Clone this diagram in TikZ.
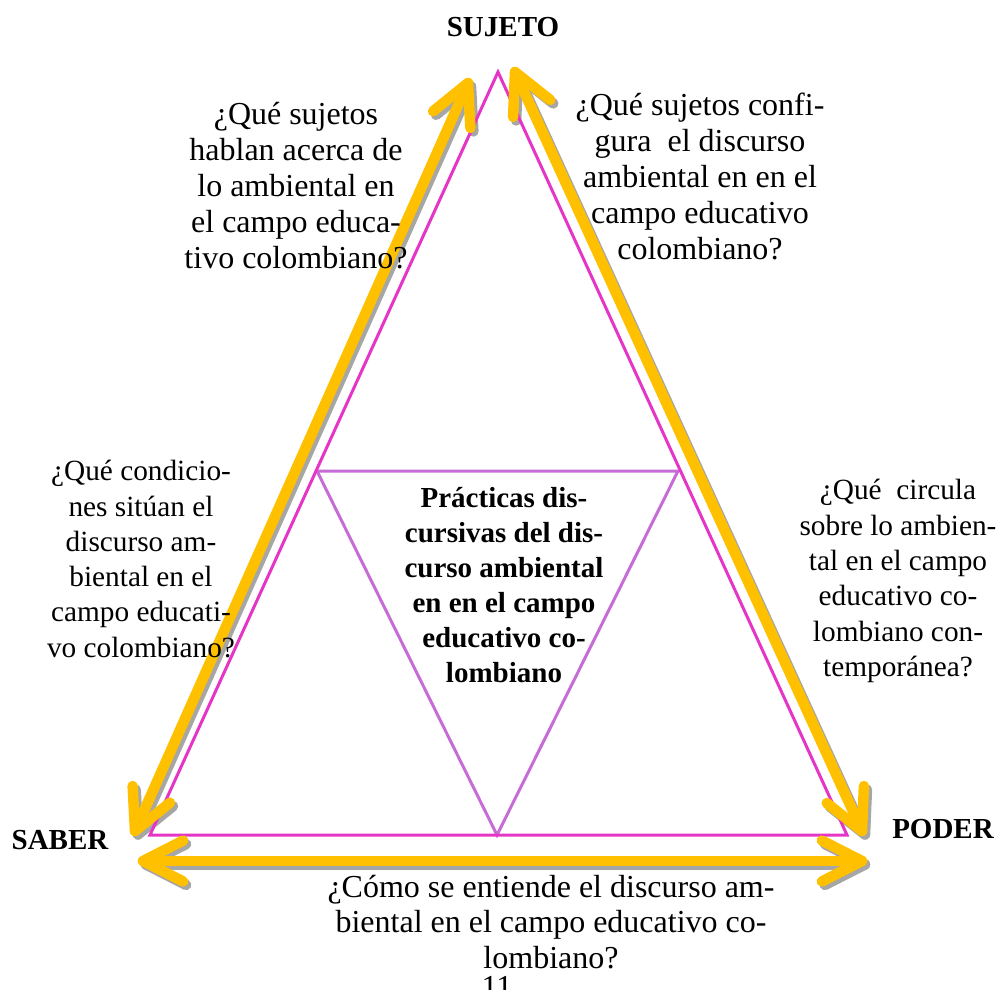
\documentclass[tikz,border=0pt]{standalone}
\usepackage{fontspec}
\setmainfont{Liberation Serif}
\usetikzlibrary{calc}
\definecolor{pinkline}{HTML}{E535C6}
\definecolor{purpline}{HTML}{C76CD6}
\definecolor{arrowyellow}{HTML}{FFC000}
\definecolor{shadowgray}{HTML}{A6A6A6}
\tikzset{
  yarr/.style={draw=arrowyellow, line width=10.5pt, line cap=round, line join=round},
  sarr/.style={yarr, draw=shadowgray, transform canvas={shift={(3pt,-3.5pt)}}},
  qtext/.style={align=center, font=\fontsize{32}{36}\selectfont, inner sep=0pt},
  qtextb/.style={align=center, font=\fontsize{29.3}{35.3}\selectfont, inner sep=0pt},
  qtextc/.style={align=center, font=\fontsize{32}{35.3}\selectfont, inner sep=0pt},
  ctext/.style={align=center, font=\fontsize{29}{35}\selectfont\bfseries, inner sep=0pt},
  vlabel/.style={font=\fontsize{29}{34}\selectfont\bfseries, inner sep=0pt}
}
\newcommand\dblarrow[3]{%
  \draw[#1] (#2) -- (#3);
  \draw[#1] ($(#2)!45pt!27:(#3)$) -- (#2) -- ($(#2)!45pt!-27:(#3)$);
  \draw[#1] ($(#3)!45pt!27:(#2)$) -- (#3) -- ($(#3)!45pt!-27:(#2)$);
}
\begin{document}
\begin{tikzpicture}[x=1pt,y=-1pt]
\useasboundingbox (0,0) rectangle (1004,989);
% triangle vertices
\coordinate (A) at (498,72);
\coordinate (B) at (150,835);
\coordinate (C) at (847,835);
\coordinate (I1) at (317,471);
\coordinate (I2) at (678,471);
\coordinate (I3) at (497,835);
% arrow ends
\coordinate (L1) at (468,83);
\coordinate (L2) at (135,831);
\coordinate (R1) at (515,72);
\coordinate (R2) at (862,831);
\coordinate (H1) at (143,861);
\coordinate (H2) at (862,861);
% shadows
\dblarrow{sarr}{L1}{L2}
\dblarrow{sarr}{R1}{R2}
\dblarrow{sarr}{H1}{H2}
% triangles
\draw[purpline, line width=3pt, line join=miter] (I1) -- (I2) -- (I3) -- cycle;
\draw[pinkline, line width=3pt, line join=miter] (A) -- (B) -- (C) -- cycle;
% arrows
\dblarrow{yarr}{L1}{L2}
\dblarrow{yarr}{R1}{R2}
\dblarrow{yarr}{H1}{H2}
% labels
\node[vlabel] (suj) at (503,27) {SUJETO};
\node[vlabel] (sab) at (60,840) {SABER};
\node[vlabel] (pod) at (943,829) {PODER};
% question texts
\node[qtext] (q1) at (296,186) {¿Qué sujetos\\hablan acerca de\\lo ambiental en\\el campo educa-\\tivo colombiano?};
\node[qtext] (q2) at (700,176) {¿Qué sujetos confi-\\gura~ el discurso\\ambiental en en el\\campo educativo\\colombiano?};
\node[qtextb] (q3) at (141,559) {¿Qué condicio-\\nes sitúan el\\discurso am-\\biental en el\\campo educati-\\vo colombiano?};
\node[qtextb] (q4) at (898,581) {¿Qué~ circula\\sobre lo ambien-\\tal en el campo\\educativo co-\\lombiano con-\\temporánea?};
\node[qtextc] (q5) at (551,922) {¿Cómo se entiende el discurso am-\\biental en el campo educativo co-\\lombiano?};
\node[ctext] (ct) at (504,585) {Prácticas dis-\\cursivas del dis-\\curso ambiental\\en en el campo\\educativo co-\\lombiano};
\node[qtext, anchor=base] (pg) at (497,997) {11};
\end{tikzpicture}
\end{document}
